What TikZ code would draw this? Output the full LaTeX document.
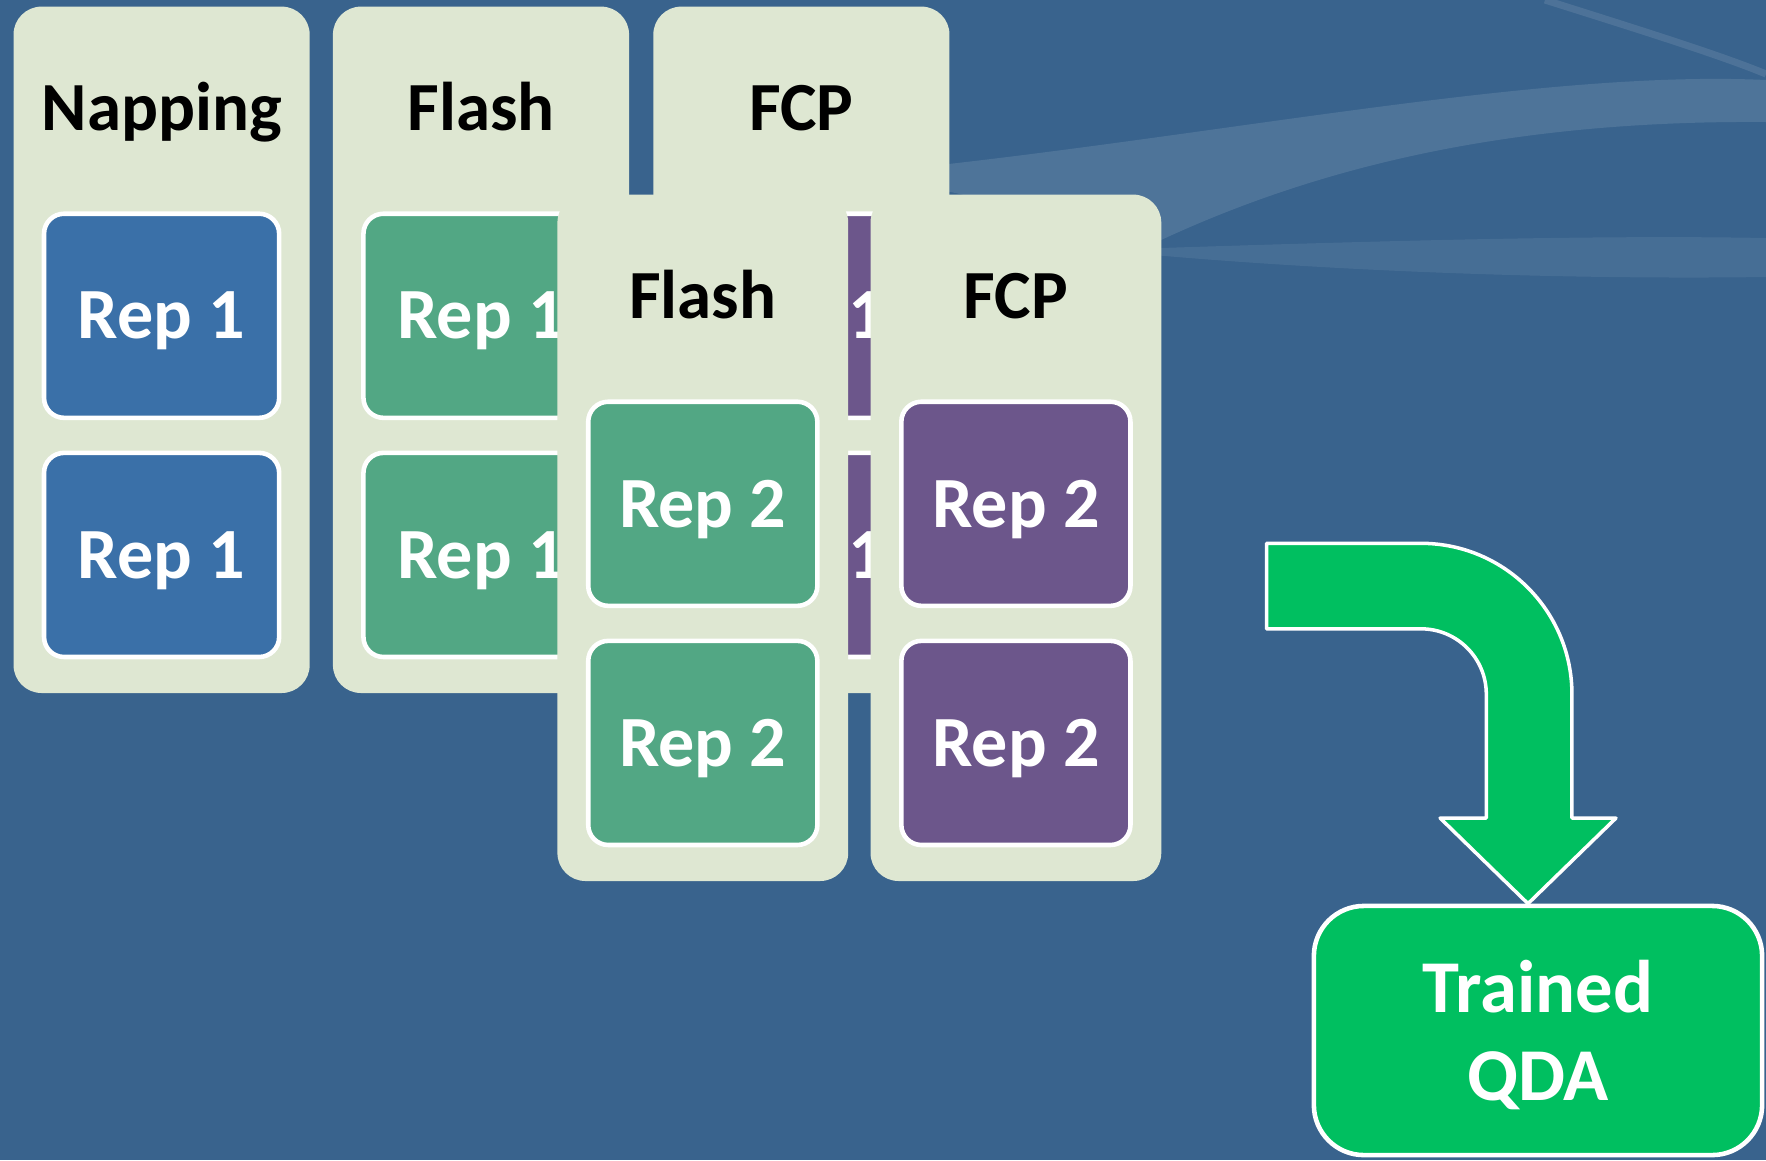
\documentclass[tikz,border=0pt]{standalone}
\usepackage{fontspec}
\setmainfont{Carlito}

\definecolor{slide}{HTML}{39638D}
\definecolor{cardbg}{HTML}{DEE7D2}
\definecolor{napblue}{HTML}{3A70A8}
\definecolor{flashgreen}{HTML}{52A784}
\definecolor{fcppurple}{HTML}{6C568B}
\definecolor{qdagreen}{HTML}{00BF60}

\tikzset{
  card/.style={fill=cardbg, rounded corners=2.8mm, inner sep=0pt,
    minimum width=#1, minimum height=6.86cm},
  card/.default=2.96cm,
  head/.style={font=\bfseries\fontsize{19.6}{24}\selectfont, anchor=base, inner sep=0pt},
  rep/.style={fill=#1, draw=white, line width=1.3pt, rounded corners=2mm, inner sep=0pt,
    minimum width=2.35cm, minimum height=2.04cm, text=white,
    font=\bfseries\fontsize{20.5}{24}\selectfont, text height=13.2pt, text depth=0pt},
  narrow/.style={minimum width=2.29cm},
  qda/.style={fill=qdagreen, draw=white, line width=1.3pt, rounded corners=5mm,
    minimum width=4.48cm, minimum height=2.49cm, text=white, align=center,
    text depth=0pt, font=\bfseries\fontsize{21.2}{25}\selectfont},
}

\begin{document}
\begin{tikzpicture}[x=0.01cm, y=-0.01cm]
\fill[slide] (0,0) rectangle (1766,1160);
\useasboundingbox (0,0) rectangle (1766,1160);
% swooshes
\fill[white, opacity=0.11] (940,165) .. controls (1250,130) and (1550,70) .. (1766,80)
  -- (1766,122) .. controls (1500,120) and (1300,170) .. (1130,255)
  .. controls (1060,230) and (1000,200) .. (940,190) -- cycle;
\fill[white, opacity=0.07] (1100,250) .. controls (1400,240) and (1600,235) .. (1766,238)
  -- (1766,277) .. controls (1550,280) and (1300,270) .. (1100,250) -- cycle;
\draw[white, opacity=0.1, line width=2pt] (1545,0) .. controls (1640,30) and (1720,55) .. (1766,74);
%
% first replicate
\node[card] (napcard) at (161.6,349.8) {};
\node[head] (naphead) at ([yshift=-1.25cm]napcard.north) {Napping};
\node[rep=napblue] (naprepa) at ([yshift=0.34cm]napcard.center) {Rep 1};
\node[rep=napblue] (naprepb) at ([yshift=-2.05cm]napcard.center) {Rep 1};
%
\node[card] (flashcard) at (481,349.8) {};
\node[head] (flashhead) at ([yshift=-1.25cm]flashcard.north) {Flash};
\node[rep=flashgreen] (flashrepa) at ([yshift=0.34cm]flashcard.center) {Rep 1};
\node[rep=flashgreen] (flashrepb) at ([yshift=-2.05cm]flashcard.center) {Rep 1};
%
\node[card] (fcpcard) at (801.4,349.8) {};
\node[head] (fcphead) at ([yshift=-1.25cm]fcpcard.north) {FCP};
\node[rep=fcppurple] (fcprepa) at ([yshift=0.34cm]fcpcard.center) {Rep 1};
\node[rep=fcppurple] (fcprepb) at ([yshift=-2.05cm]fcpcard.center) {Rep 1};
%
% second replicate
\node[card=2.906cm] (flashcardb) at (702.8,537.8) {};
\node[head] (flashheadb) at ([yshift=-1.25cm]flashcardb.north) {Flash};
\node[rep=flashgreen, narrow] (flashrepc) at ([yshift=0.34cm]flashcardb.center) {Rep 2};
\node[rep=flashgreen, narrow] (flashrepd) at ([yshift=-2.05cm]flashcardb.center) {Rep 2};
%
\node[card=2.906cm] (fcpcardb) at (1015.9,537.8) {};
\node[head] (fcpheadb) at ([yshift=-1.25cm]fcpcardb.north) {FCP};
\node[rep=fcppurple, narrow] (fcprepc) at ([yshift=0.34cm]fcpcardb.center) {Rep 2};
\node[rep=fcppurple, narrow] (fcprepd) at ([yshift=-2.05cm]fcpcardb.center) {Rep 2};
%
% model
\node[qda] (qda) at (1538,1030.5) {Trained\\QDA};
\coordinate (tip) at ([xshift=-0.1cm]qda.north);
\draw[fill=qdagreen, draw=white, line width=1pt, line join=round]
  (tip) -- ++(-87.9,-85.6) -- ++(46.2,0) -- ++(0,-123.9)
  arc[start angle=0, end angle=90, radius=0.653cm] -- ++(-154.4,0) -- ++(0,-85.5)
  -- ++(154.4,0) arc[start angle=90, end angle=0, radius=1.509cm]
  -- ++(0,123.8) -- ++(44,0) -- cycle;
%%%%%%%%%%%%%%%%%%%%%%%%%%%%%%%
\end{tikzpicture}
\end{document}
